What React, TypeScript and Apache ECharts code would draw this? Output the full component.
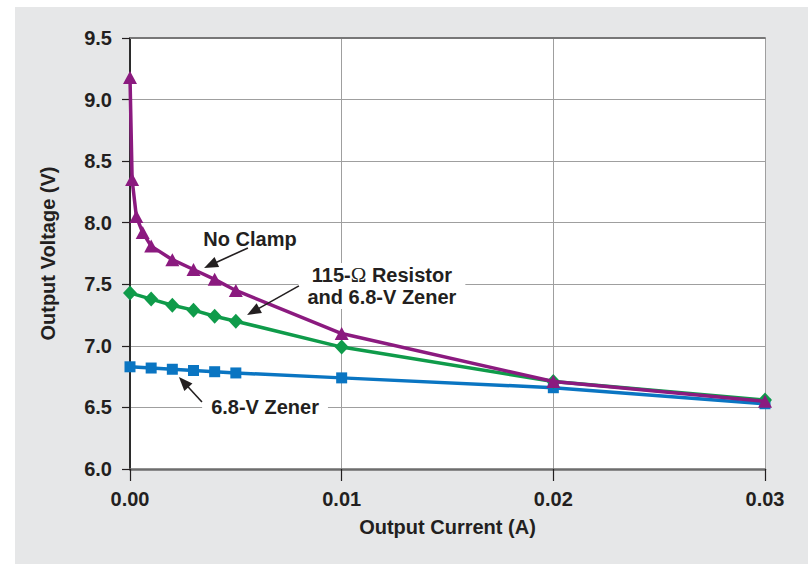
import React, { useEffect, useRef } from 'react';
import * as echarts from 'echarts';

// ---- data ----
const currentNoClamp = [0, 0.0001, 0.0003, 0.0006, 0.001, 0.002, 0.003, 0.004, 0.005, 0.01, 0.02, 0.03];
const voltageNoClamp = [9.18, 8.35, 8.05, 7.92, 7.81, 7.7, 7.62, 7.54, 7.45, 7.1, 6.71, 6.55];

const currentClamped = [0, 0.001, 0.002, 0.003, 0.004, 0.005, 0.01, 0.02, 0.03];
const voltageResistorZener = [7.43, 7.38, 7.33, 7.29, 7.24, 7.2, 6.99, 6.71, 6.56];
const voltageZener = [6.83, 6.82, 6.81, 6.8, 6.79, 6.78, 6.74, 6.66, 6.53];

const xTickValues = [0, 0.01, 0.02, 0.03];
const yTickValues = [6.0, 6.5, 7.0, 7.5, 8.0, 8.5, 9.0, 9.5];

// annotations in data coordinates: [current, voltage]
const annNoClampText: [number, number] = [0.00567, 7.87];
const annNoClampTail: [number, number] = [0.00557, 7.795];
const annNoClampHead: [number, number] = [0.0035, 7.633];

const annResText: [number, number] = [0.0119, 7.487];
const annResTail: [number, number] = [0.00798, 7.487];
const annResHead: [number, number] = [0.00553, 7.251];

const annZenerText: [number, number] = [0.00638, 6.504];
const annZenerTail: [number, number] = [0.0034, 6.544];
const annZenerHead: [number, number] = [0.00231, 6.747];

const FONT = '"Liberation Sans", Arial, Helvetica, sans-serif';
const TXT = '#231f20';
const PURPLE = '#8b1a7f';
const GREEN = '#0f9b4a';
const BLUE = '#0a75c2';

const zip = (xs: number[], ys: number[]) => xs.map((x, i) => [x, ys[i]]);

export default function App() {
  const ref = useRef<HTMLDivElement>(null);

  useEffect(() => {
    if (!ref.current) return;
    const chart = echarts.init(ref.current, null, { renderer: 'svg' });

    const xMin = xTickValues[0];
    const xMax = xTickValues[xTickValues.length - 1];
    const yMin = yTickValues[0];
    const yMax = yTickValues[yTickValues.length - 1];

    const option: any = {
      animation: false,
      backgroundColor: 'transparent',
      grid: {
        left: 130,
        right: 43,
        top: 38,
        bottom: 109,
        show: true,
        backgroundColor: '#ffffff',
        borderWidth: 0,
      },
      xAxis: [
        {
          type: 'value',
          min: xMin,
          max: xMax,
          interval: 0.01,
          name: 'Output Current (A)',
          nameLocation: 'middle',
          nameGap: 48,
          nameTextStyle: { fontFamily: FONT, fontWeight: 'bold', fontSize: 20, color: TXT },
          axisLine: { show: true, lineStyle: { color: '#6d6d6d', width: 2.5 } },
          axisTick: { show: true, length: 12, lineStyle: { color: TXT, width: 1.2 } },
          axisLabel: {
            margin: 20,
            fontFamily: FONT,
            fontWeight: 'bold',
            fontSize: 20,
            color: TXT,
            formatter: (v: number) => v.toFixed(2),
          },
          splitLine: { show: true, lineStyle: { color: '#9f9f9f', width: 1 } },
        },
        {
          type: 'value',
          position: 'top',
          min: xMin,
          max: xMax,
          axisLine: { show: true, lineStyle: { color: '#777777', width: 1.8 } },
          axisTick: { show: false },
          axisLabel: { show: false },
          splitLine: { show: false },
        },
      ],
      yAxis: [
        {
          type: 'value',
          min: yMin,
          max: yMax,
          interval: 0.5,
          name: 'Output Voltage (V)',
          nameLocation: 'middle',
          nameGap: 72,
          nameTextStyle: { fontFamily: FONT, fontWeight: 'bold', fontSize: 20, color: TXT },
          axisLine: { show: true, lineStyle: { color: TXT, width: 1.5 } },
          axisTick: { show: true, length: 8, lineStyle: { color: TXT, width: 1.2 } },
          axisLabel: {
            margin: 18,
            fontFamily: FONT,
            fontWeight: 'bold',
            fontSize: 20,
            color: TXT,
            formatter: (v: number) => v.toFixed(1),
          },
          splitLine: { show: true, lineStyle: { color: '#9f9f9f', width: 1 } },
        },
        {
          type: 'value',
          position: 'right',
          min: yMin,
          max: yMax,
          axisLine: { show: true, lineStyle: { color: '#2a2a2a', width: 1.8 } },
          axisTick: { show: false },
          axisLabel: { show: false },
          splitLine: { show: false },
        },
      ],
      series: [
        {
          name: '6.8-V Zener',
          type: 'line',
          data: zip(currentClamped, voltageZener),
          symbol: 'rect',
          symbolSize: 11,
          clip: false,
          lineStyle: { color: BLUE, width: 3.5 },
          itemStyle: { color: BLUE },
          z: 3,
        },
        {
          name: '115-Ω Resistor and 6.8-V Zener',
          type: 'line',
          data: zip(currentClamped, voltageResistorZener),
          symbol: 'diamond',
          symbolSize: [14, 15],
          clip: false,
          lineStyle: { color: GREEN, width: 3.5 },
          itemStyle: { color: GREEN },
          z: 4,
        },
        {
          name: 'No Clamp',
          type: 'line',
          data: zip(currentNoClamp, voltageNoClamp),
          symbol: 'triangle',
          symbolSize: [14, 13],
          clip: false,
          lineStyle: { color: PURPLE, width: 3.5 },
          itemStyle: { color: PURPLE },
          z: 5,
        },
      ],
    };

    chart.setOption(option);

    const px = (p: [number, number]) => chart.convertToPixel({ seriesIndex: 0 }, p) as number[];

    const arrow = (tailD: [number, number], headD: [number, number]) => {
      const t = px(tailD);
      const h = px(headD);
      const dx = h[0] - t[0];
      const dy = h[1] - t[1];
      const len = Math.sqrt(dx * dx + dy * dy);
      const ux = dx / len;
      const uy = dy / len;
      const L = 14;
      const W = 11;
      const bx = h[0] - ux * L;
      const by = h[1] - uy * L;
      const nx = -uy;
      const ny = ux;
      return [
        {
          type: 'line',
          shape: { x1: t[0], y1: t[1], x2: bx + ux * 2, y2: by + uy * 2 },
          style: { stroke: TXT, lineWidth: 1.6 },
          z: 20,
        },
        {
          type: 'polygon',
          shape: {
            points: [
              [h[0], h[1]],
              [bx + nx * W / 2, by + ny * W / 2],
              [bx - nx * W / 2, by - ny * W / 2],
            ],
          },
          style: { fill: TXT },
          z: 20,
        },
      ];
    };

    const label = (pos: [number, number], text: string, rich?: any) => {
      const p = px(pos);
      return {
        type: 'text',
        x: p[0],
        y: p[1],
        z: 19,
        style: {
          text,
          align: 'center',
          verticalAlign: 'middle',
          fontFamily: FONT,
          fontWeight: 'bold',
          fontSize: 20,
          lineHeight: 22,
          fill: TXT,
          backgroundColor: '#ffffff',
          padding: [1, 9],
          rich,
        },
      };
    };

    const richStyle = {
      a: { fontFamily: FONT, fontWeight: 'bold', fontSize: 20, lineHeight: 22, fill: TXT, color: TXT },
      o: { fontFamily: '"Liberation Serif", "Times New Roman", serif', fontWeight: 'normal', fontSize: 21, lineHeight: 22, fill: TXT, color: TXT },
    };

    chart.setOption({
      graphic: [
        label(annNoClampText, 'No Clamp'),
        ...arrow(annNoClampTail, annNoClampHead),
        label(annResText, '{a|115-}{o|Ω}{a| Resistor}\n{a|and 6.8-V Zener}', richStyle),
        ...arrow(annResTail, annResHead),
        label(annZenerText, '6.8-V Zener'),
        ...arrow(annZenerTail, annZenerHead),
      ],
    });

    return () => chart.dispose();
  }, []);

  return (
    <div style={{ position: 'fixed', left: 0, top: 0, width: 808, height: 578, background: '#ffffff' }}>
      <div style={{ position: 'absolute', left: 15, top: 7, width: 793, height: 557, background: '#e6e7e8' }} />
      <div ref={ref} style={{ position: 'absolute', left: 0, top: 0, width: 808, height: 578 }} />
    </div>
  );
}
